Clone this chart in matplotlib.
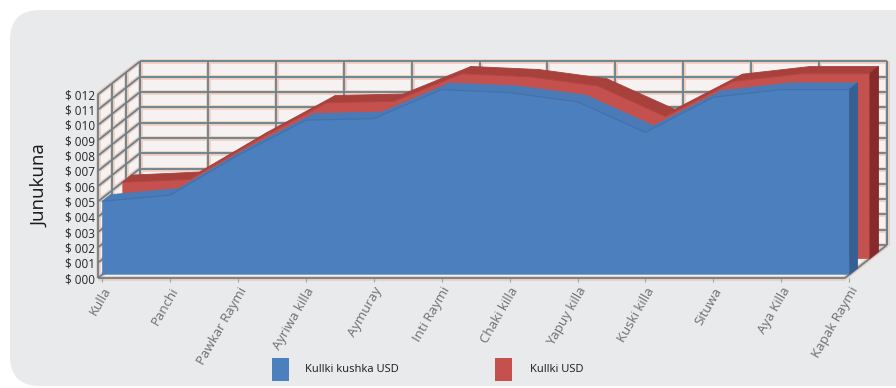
import matplotlib
matplotlib.use("Agg")
import matplotlib.pyplot as plt
from matplotlib.patches import Polygon, FancyBboxPatch, Rectangle

# ---- data -------------------------------------------------------------
months = ["Kulla", "Panchi", "Pawkar Raymi", "Ayriwa killa", "Aymuray",
          "Inti Raymi", "Chaki killa", "Yapuy killa", "Kuski killa",
          "Situwa", "Aya Killa", "Kapak Raymi"]
kullki_kushka_usd = [4.8, 5.2, 7.8, 10.1, 10.2, 12.1, 11.9, 11.3, 9.3, 11.6, 12.1, 12.1]
kullki_usd = [5.0, 5.2, 7.8, 10.2, 10.3, 12.1, 11.9, 11.3, 9.3, 11.6, 12.1, 12.1]
value_ticks = list(range(13))
series_names = ["Kullki kushka USD", "Kullki USD"]
axis_title = "Junukuna"

FONT = ["Liberation Sans Narrow", "Open Sans", "DejaVu Sans"]
plt.rcParams["font.family"] = FONT

W, H = 896, 388
fig = plt.figure(figsize=(W / 100, H / 100), dpi=100)
fig.patch.set_facecolor("white")

# background layer in pixel units
bg = fig.add_axes([0, 0, 1, 1])
bg.set_xlim(0, W)
bg.set_ylim(H, 0)
bg.axis("off")
bg.add_patch(FancyBboxPatch((10, 10), 940, 376,
                            boxstyle="round,pad=0,rounding_size=30",
                            fc="#e9eaec", ec="none"))

# ---- pseudo-3D plot area ----------------------------------------------
PX_CAT = 67.9      # pixels per category step
PX_VAL = 15.3      # pixels per value unit
ax = fig.add_axes([98 / W, (H - 278) / H, 790 / W, 238 / H])
ax.set_xlim(0, 790 / PX_CAT)
ax.set_ylim(0, 238 / PX_VAL)
ax.set_facecolor("none")
for s in ax.spines.values():
    s.set_visible(False)

DXU = 42 / PX_CAT  # depth shift along x (category units)
DYU = 33 / PX_VAL  # depth shift along y (value units)


def proj(i, v, f):
    return (i + f * DXU, v + f * DYU)


n = len(months) - 1
vmax = max(value_ticks)

wall_fc = "#f6f2f1"
back = [proj(0, 0, 1), proj(n, 0, 1), proj(n, vmax, 1), proj(0, vmax, 1)]
side = [proj(0, 0, 0), proj(0, 0, 1), proj(0, vmax, 1), proj(0, vmax, 0)]
floor = [proj(0, 0, 0), proj(n, 0, 0), proj(n, 0, 1), proj(0, 0, 1)]
for poly in (back, side, floor):
    ax.add_patch(Polygon(poly, closed=True, fc=wall_fc, ec="none",
                         clip_on=False, zorder=1))


def gline(p, q, lw=1.3):
    xs, ys = [p[0], q[0]], [p[1], q[1]]
    ax.plot(xs, ys, color="#f0cabd", lw=lw + 2.0, solid_capstyle="butt",
            clip_on=False, zorder=1.5)
    ax.plot(xs, ys, color="#64828f", lw=lw, solid_capstyle="butt",
            clip_on=False, zorder=1.6)


for v in value_ticks:
    gline(proj(0, v, 1), proj(n, v, 1))
    gline(proj(0, v, 0), proj(0, v, 1))
for i in range(n + 1):
    gline(proj(i, 0, 1), proj(i, vmax, 1))
for f in (0, 1 / 3, 2 / 3, 1):
    gline(proj(0, 0, f), proj(0, vmax, f))
gline(proj(0, 0, 0), proj(n, 0, 0))
gline(proj(n, 0, 0), proj(n, 0, 1))
gline(proj(n, 0, 1), proj(n, vmax, 1))


def draw_series(vals, f0, f1, c_front, c_top, c_side, c_edge, z):
    for k in range(n):
        quad = [proj(k, vals[k], f0), proj(k + 1, vals[k + 1], f0),
                proj(k + 1, vals[k + 1], f1), proj(k, vals[k], f1)]
        ax.add_patch(Polygon(quad, closed=True, fc=c_top, ec=c_top, lw=0.6,
                             clip_on=False, zorder=z))
    rside = [proj(n, 0, f0), proj(n, vals[-1], f0), proj(n, vals[-1], f1), proj(n, 0, f1)]
    ax.add_patch(Polygon(rside, closed=True, fc=c_side, ec=c_side, lw=0.6,
                         clip_on=False, zorder=z + 0.1))
    front = [proj(k, vals[k], f0) for k in range(n + 1)]
    front += [proj(n, 0, f0), proj(0, 0, f0)]
    ax.add_patch(Polygon(front, closed=True, fc=c_front, ec="none",
                         clip_on=False, zorder=z + 0.2))
    top = [proj(k, vals[k], f0) for k in range(n + 1)]
    ax.plot([p[0] for p in top], [p[1] for p in top], color=c_edge, lw=0.8,
            clip_on=False, zorder=z + 0.3)


draw_series(kullki_usd, 0.58, 0.80, "#c4514d", "#a8403c", "#862b29", "#b34541", 3)
draw_series(kullki_kushka_usd, 0.10, 0.30, "#4b7fbd", "#4a7bb7", "#365f93", "#4171ad", 4)

# ---- axes text ----------------------------------------------------------
ax.set_yticks(value_ticks)
ax.set_yticklabels([f"$ {v:03d}" for v in value_ticks], fontsize=8.5, color="#262626")
ax.tick_params(axis="y", length=0, pad=2)

ax.set_xticks([i + 0.1 * DXU for i in range(n + 1)])
ax.set_xticklabels(months, rotation=60, ha="right", va="top",
                   rotation_mode="anchor", fontsize=9.5, color="#6e6e6e",
                   family=["Open Sans", "DejaVu Sans"])
ax.tick_params(axis="x", length=3, width=0.8, color="#9aa7ad", pad=2)

bg.text(40, 186, axis_title, rotation=90, ha="center", va="center",
        fontsize=13.5, color="#1a1a1a", family=["Open Sans", "DejaVu Sans"])

# ---- legend -------------------------------------------------------------
bg.add_patch(Rectangle((272, 358), 17, 23, fc="#4b7fbd", ec="none"))
bg.text(305, 369, series_names[0], ha="left", va="center", fontsize=8, color="#1a1a1a")
bg.add_patch(Rectangle((495, 358), 17, 23, fc="#c4514d", ec="none"))
bg.text(530, 370, series_names[1], ha="left", va="center", fontsize=8, color="#1a1a1a")

fig.savefig("out.png", dpi=100, facecolor=fig.get_facecolor())
